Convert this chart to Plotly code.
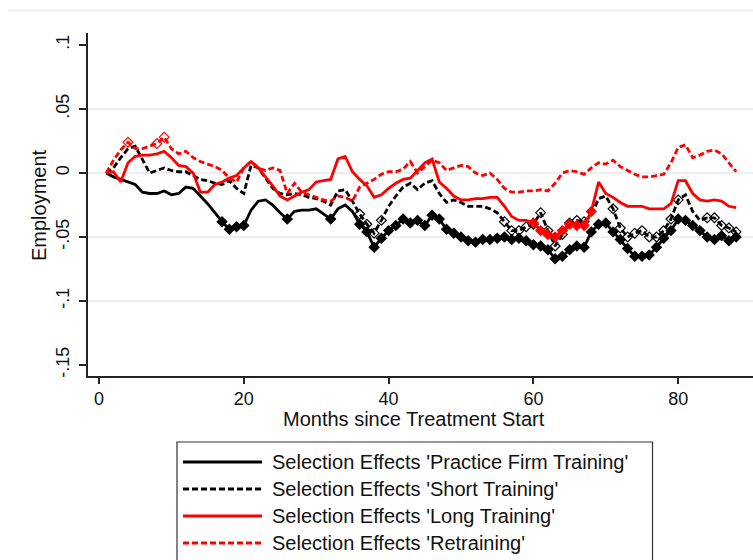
import plotly.graph_objects as go

# ---------------- data ----------------
months = list(range(1, 89))

practice_firm = [
    0.000, -0.003, -0.005, -0.007, -0.009, -0.015, -0.016, -0.016, -0.014, -0.017,
    -0.016, -0.011, -0.012, -0.018, -0.024, -0.031, -0.038, -0.044, -0.042, -0.041,
    -0.029, -0.022, -0.021, -0.025, -0.031, -0.036, -0.030, -0.029, -0.029, -0.028,
    -0.032, -0.036, -0.028, -0.025, -0.030, -0.040, -0.046, -0.058, -0.051, -0.045,
    -0.041, -0.036, -0.039, -0.037, -0.041, -0.033, -0.036, -0.044, -0.047, -0.050,
    -0.053, -0.054, -0.052, -0.052, -0.051, -0.050, -0.052, -0.051, -0.053, -0.056,
    -0.057, -0.060, -0.067, -0.065, -0.060, -0.057, -0.058, -0.046, -0.040, -0.039,
    -0.046, -0.052, -0.059, -0.065, -0.065, -0.064, -0.058, -0.051, -0.045, -0.036,
    -0.037, -0.041, -0.045, -0.050, -0.052, -0.049, -0.053, -0.050,
]

short_training = [
    0.000, 0.004, 0.012, 0.019, 0.021, 0.011, 0.000, 0.002, 0.004, 0.002,
    0.001, 0.001, -0.002, -0.005, -0.006, -0.008, -0.009, -0.006, -0.012, -0.016,
    0.006, 0.004, -0.004, -0.012, -0.016, -0.017, -0.016, -0.017, -0.019, -0.020,
    -0.022, -0.025, -0.014, -0.013, -0.022, -0.032, -0.040, -0.047, -0.037, -0.026,
    -0.018, -0.011, -0.008, -0.013, -0.008, -0.006, -0.016, -0.023, -0.021, -0.023,
    -0.026, -0.026, -0.026, -0.028, -0.031, -0.038, -0.045, -0.045, -0.042, -0.040,
    -0.031, -0.045, -0.057, -0.048, -0.039, -0.037, -0.038, -0.033, -0.020, -0.018,
    -0.028, -0.043, -0.050, -0.047, -0.045, -0.050, -0.050, -0.045, -0.036, -0.021,
    -0.017, -0.030, -0.037, -0.035, -0.035, -0.041, -0.043, -0.046,
]

long_training = [
    0.000, 0.001, -0.007, 0.008, 0.013, 0.014, 0.014, 0.015, 0.017, 0.012,
    0.006, 0.005, 0.000, -0.015, -0.015, -0.009, -0.007, -0.004, -0.002, 0.004,
    0.009, 0.004, -0.003, -0.010, -0.018, -0.021, -0.018, -0.015, -0.013, -0.007,
    -0.006, -0.005, 0.011, 0.013, 0.001, -0.005, -0.010, -0.019, -0.017, -0.012,
    -0.008, -0.005, -0.004, 0.002, 0.008, 0.011, -0.007, -0.012, -0.018, -0.021,
    -0.021, -0.020, -0.020, -0.019, -0.019, -0.026, -0.034, -0.037, -0.037, -0.039,
    -0.045, -0.048, -0.050, -0.045, -0.040, -0.041, -0.041, -0.030, -0.007, -0.016,
    -0.019, -0.023, -0.026, -0.026, -0.026, -0.028, -0.028, -0.028, -0.024, -0.006,
    -0.006, -0.016, -0.021, -0.022, -0.021, -0.022, -0.026, -0.027,
]

retraining = [
    0.000, 0.010, 0.018, 0.024, 0.019, 0.019, 0.021, 0.023, 0.028, 0.019,
    0.015, 0.017, 0.012, 0.009, 0.007, 0.005, 0.002, -0.004, -0.007, 0.004,
    0.009, 0.004, 0.002, 0.004, 0.002, -0.016, -0.008, -0.015, -0.017, -0.019,
    -0.021, -0.022, -0.018, -0.019, -0.022, -0.011, -0.008, -0.005, -0.001, 0.001,
    0.001, 0.003, 0.009, 0.000, 0.005, 0.010, 0.008, 0.002, 0.004, 0.006,
    0.005, 0.000, -0.002, 0.000, -0.005, -0.012, -0.015, -0.015, -0.014, -0.014,
    -0.013, -0.014, -0.008, 0.000, 0.002, 0.001, -0.001, 0.004, 0.008, 0.007,
    0.010, 0.005, 0.002, -0.001, -0.003, -0.003, -0.002, -0.001, 0.008, 0.020,
    0.022, 0.012, 0.014, 0.017, 0.018, 0.015, 0.008, 0.001,
]

# months at which a diamond marker is shown
practice_firm_marked = [17, 18, 19, 20, 26, 32, 36, 37, 38, 39, 40, 41, 42, 43, 44, 45,
                        46, 47, 48, 49, 50, 51, 52, 53, 54, 55, 56, 57, 58, 59, 60, 61,
                        62, 63, 64, 65, 66, 67, 68, 69, 70, 71, 72, 73, 74, 75, 76, 77,
                        78, 79, 80, 81, 82, 83, 84, 85, 86, 87, 88]
short_training_marked = [36, 37, 38, 39, 56, 57, 58, 59, 60, 61, 62, 63, 64, 65, 66, 67,
                         71, 72, 73, 74, 75, 76, 77, 78, 79, 80, 84, 85, 86, 87, 88]
long_training_marked = [60, 61, 62, 63, 64, 65, 66, 67, 68]
retraining_marked = [4, 8, 9]

series_names = [
    "Selection Effects 'Practice Firm Training'",
    "Selection Effects 'Short Training'",
    "Selection Effects 'Long Training'",
    "Selection Effects 'Retraining'",
]

x_tick_values = [0, 20, 40, 60, 80]
y_tick_values = [-0.15, -0.1, -0.05, 0, 0.05, 0.1]
y_tick_labels = ["-.15", "-.1", "-.05", "0", ".05", ".1"]
grid_values = [-0.1, -0.05, 0, 0.05]

x_title = "Months since Treatment Start"
y_title = "Employment"

# ---------------- styles ----------------
W, H = 753, 560
ML, MR, MT, MB = 88, 0, 33, 184
PW, PH = W - ML - MR, H - MT - MB
FONT = "Arial, Liberation Sans, sans-serif"
DASH = "6px,3px"
LW = 2.8

def px2x(px):
    return (px - ML) / PW

def px2y(py):
    return (H - MB - py) / PH

styles = [
    dict(color="black", dash="solid", msym="diamond", mfill="black"),
    dict(color="black", dash=DASH, msym="diamond-open", mfill="black"),
    dict(color="red", dash="solid", msym="diamond", mfill="red"),
    dict(color="red", dash=DASH, msym="diamond-open", mfill="red"),
]
all_series = [practice_firm, short_training, long_training, retraining]
all_marked = [practice_firm_marked, short_training_marked, long_training_marked, retraining_marked]

fig = go.Figure()
for vals, marked, st, name in zip(all_series, all_marked, styles, series_names):
    fig.add_trace(go.Scatter(
        x=months, y=vals, mode="lines", name=name, showlegend=False,
        line=dict(color=st["color"], width=LW, dash=st["dash"]),
    ))
    lookup = dict(zip(months, vals))
    fig.add_trace(go.Scatter(
        x=marked, y=[lookup[m] for m in marked], mode="markers", showlegend=False,
        marker=dict(symbol=st["msym"], size=7.5, color=st["mfill"],
                    line=dict(color=st["color"], width=1.2)),
    ))

shapes = []
# grid lines
for g in grid_values:
    shapes.append(dict(type="line", xref="paper", yref="y", x0=0, x1=1, y0=g, y1=g,
                       line=dict(color="#e8e8e8", width=1.5), layer="below"))
# thin frame line at the top of the image
shapes.append(dict(type="line", xref="paper", yref="paper", x0=px2x(8), x1=1,
                   y0=px2y(10.5), y1=px2y(10.5), line=dict(color="#eeeeee", width=2)))
# legend box
shapes.append(dict(type="rect", xref="paper", yref="paper", x0=px2x(177), x1=px2x(652.5),
                   y0=px2y(442), y1=px2y(600), line=dict(color="#333333", width=1.2),
                   fillcolor="white"))
annotations = []
row_y = [462, 489, 516, 543]
for st, name, ry in zip(styles, series_names, row_y):
    shapes.append(dict(type="line", xref="paper", yref="paper", x0=px2x(183), x1=px2x(262),
                       y0=px2y(ry), y1=px2y(ry),
                       line=dict(color=st["color"], width=LW, dash=st["dash"])))
    annotations.append(dict(xref="paper", yref="paper", x=px2x(270), y=px2y(ry),
                            xanchor="left", yanchor="middle", showarrow=False, text=name,
                            font=dict(family=FONT, size=20, color="#111111")))

annotations.append(dict(xref="paper", yref="paper", x=px2x(414), y=px2y(419),
                        xanchor="center", yanchor="middle", showarrow=False, text=x_title,
                        font=dict(family=FONT, size=20, color="#111111")))
annotations.append(dict(xref="paper", yref="paper", x=px2x(39), y=px2y(205),
                        xanchor="center", yanchor="middle", showarrow=False, text=y_title,
                        textangle=-90, font=dict(family=FONT, size=20, color="#111111")))

fig.update_layout(
    width=W, height=H,
    margin=dict(l=ML, r=MR, t=MT, b=MB, pad=0),
    paper_bgcolor="white", plot_bgcolor="white",
    font=dict(family=FONT, size=18, color="#111111"),
    showlegend=False,
    shapes=shapes, annotations=annotations,
    xaxis=dict(range=[-1.52, 90.33], tickvals=x_tick_values, showgrid=False, zeroline=False,
               showline=True, linecolor="#222222", linewidth=1.5,
               ticks="outside", ticklen=6, tickwidth=1.5, tickcolor="#222222",
               tickfont=dict(size=18)),
    yaxis=dict(range=[-0.1586, 0.1094], tickvals=y_tick_values, ticktext=y_tick_labels,
               showgrid=False, zeroline=False, showline=True, linecolor="#222222", linewidth=1.5,
               ticks="outside", ticklen=7, tickwidth=1.5, tickcolor="#222222",
               ticklabelstandoff=3, tickangle=-90, tickfont=dict(size=18)),
)

fig.write_html("out.html")
